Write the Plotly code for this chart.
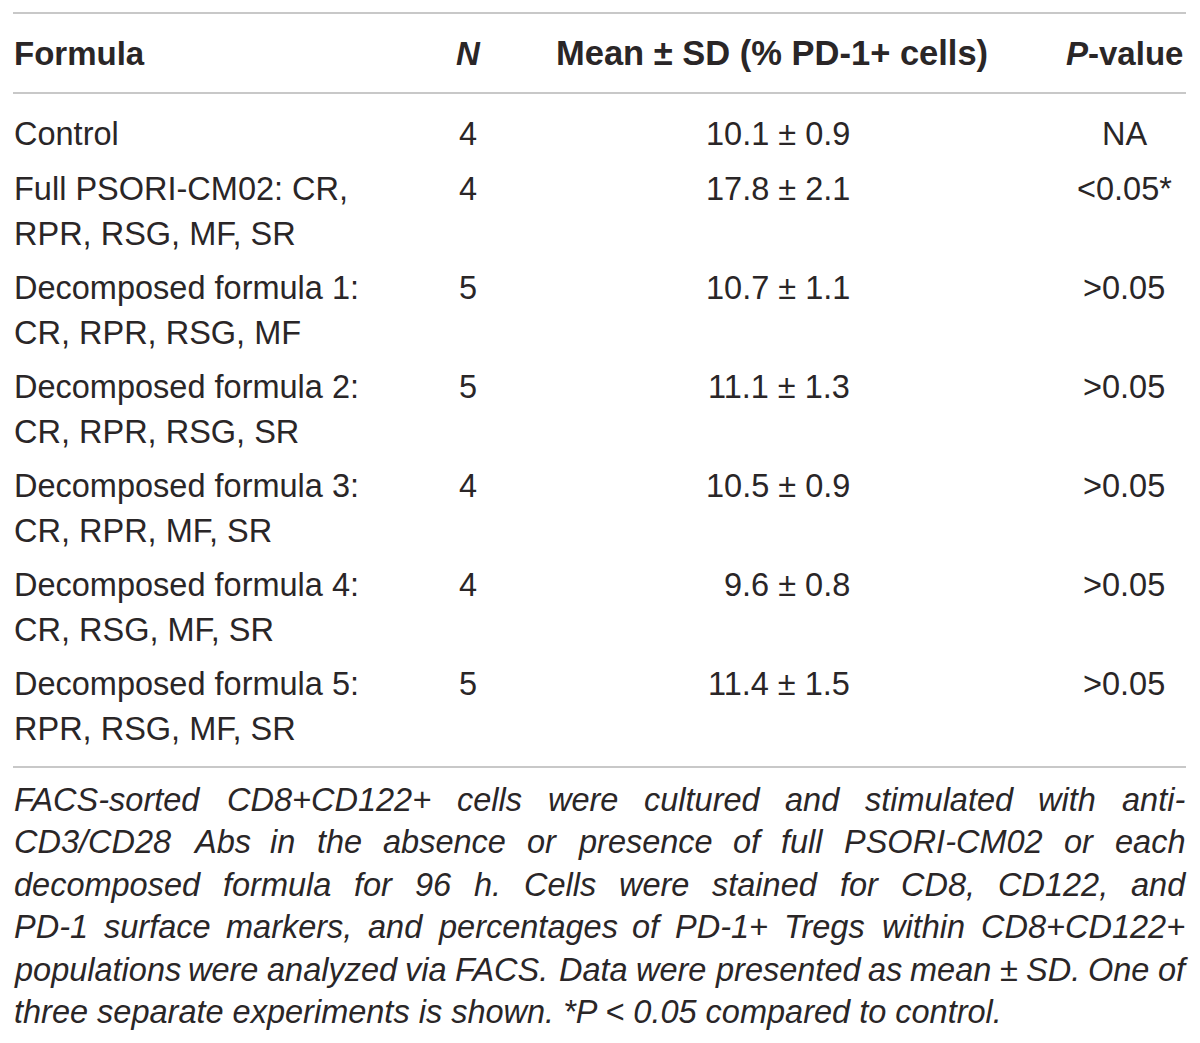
import plotly.graph_objects as go

# table content
formula_line1 = [
    "Control",
    "Full PSORI-CM02: CR,",
    "Decomposed formula 1:",
    "Decomposed formula 2:",
    "Decomposed formula 3:",
    "Decomposed formula 4:",
    "Decomposed formula 5:",
]
formula_line2 = [
    "",
    "RPR, RSG, MF, SR",
    "CR, RPR, RSG, MF",
    "CR, RPR, RSG, SR",
    "CR, RPR, MF, SR",
    "CR, RSG, MF, SR",
    "RPR, RSG, MF, SR",
]
n_values = [4, 4, 5, 5, 4, 4, 5]
means = [10.1, 17.8, 10.7, 11.1, 10.5, 9.6, 11.4]
sds = [0.9, 2.1, 1.1, 1.3, 0.9, 0.8, 1.5]
p_values = ["NA", "<0.05*", ">0.05", ">0.05", ">0.05", ">0.05", ">0.05"]

headers = ["<b>Formula</b>", "<b><i>N</i></b>", "<b>Mean ± SD (% PD-1+ cells)</b>", "<b><i>P</i>-value</b>"]

footnote_lines = [
    "FACS-sorted CD8+CD122+ cells were cultured and stimulated with anti-",
    "CD3/CD28 Abs in the absence or presence of full PSORI-CM02 or each",
    "decomposed formula for 96 h. Cells were stained for CD8, CD122, and",
    "PD-1 surface markers, and percentages of PD-1+ Tregs within CD8+CD122+",
    "populations were analyzed via FACS. Data were presented as mean ± SD. One of",
    "three separate experiments is shown. *P < 0.05 compared to control.",
]

FONT = "Liberation Sans, Arial, Helvetica, sans-serif"
TEXT = "#2a2627"
RULE = "#c8c8c8"
BODY_SIZE = 32.5
HEAD_SIZE = 33
NOTE_SIZE = 32.5

# Arial / Liberation Sans advance widths (1/1000 em), used to justify the note
W = {" ": 278, "*": 389, "+": 584, ",": 278, "-": 333, ".": 278, "/": 278,
     ":": 278, "<": 584, ">": 584, "±": 549, "%": 889, "(": 333, ")": 333}
W.update({d: 556 for d in "0123456789"})
W.update(dict(zip("ABCDEFGHIJKLMNOPQRSTUVWXYZ",
                  [667, 667, 722, 722, 667, 611, 778, 722, 278, 500, 667, 556, 833,
                   722, 778, 667, 778, 722, 667, 611, 722, 667, 944, 667, 667, 611])))
W.update(dict(zip("abcdefghijklmnopqrstuvwxyz",
                  [556, 556, 500, 556, 556, 278, 556, 556, 222, 222, 500, 222, 833,
                   556, 556, 556, 556, 333, 500, 278, 556, 500, 722, 500, 500, 500])))


def text_width(s, size):
    return sum(W.get(ch, 556) for ch in s) * size / 1000.0


X_LEFT, X_RIGHT = 13, 1186
X_N = 468
X_MEAN_HEAD = 772
X_MEAN = 851
X_P = 1124
X_P_HEAD = 1184

fig = go.Figure()
annotations = []


def add_text(x, y, text, anchor="left", size=BODY_SIZE, italic=False):
    annotations.append(dict(
        x=x, y=y, xref="x", yref="y", text=text, showarrow=False,
        xanchor=anchor, yanchor="middle", borderpad=0,
        font=dict(family=FONT, size=size, color=TEXT,
                  style="italic" if italic else "normal"),
    ))


# header
head_y = 53
add_text(X_LEFT, head_y, headers[0], "left", HEAD_SIZE)
add_text(X_N, head_y, headers[1], "center", HEAD_SIZE)
add_text(X_MEAN_HEAD, head_y, headers[2], "center", 34.5)
add_text(X_P_HEAD, head_y, headers[3], "right", HEAD_SIZE)

# body rows
line_gap = 44.5
y = 134
for i in range(len(formula_line1)):
    add_text(X_LEFT, y, formula_line1[i])
    if formula_line2[i]:
        add_text(X_LEFT, y + line_gap, formula_line2[i])
    add_text(X_N, y, str(n_values[i]), "center")
    add_text(X_MEAN, y, f"{means[i]:.1f} ± {sds[i]:.1f}", "right")
    add_text(X_P, y, p_values[i].replace("<", "&lt;").replace(">", "&gt;"), "center")
    y += 55 if not formula_line2[i] else 99

# footnote, justified except the last line
note_y0 = 800
note_gap = 42.4
for k, line in enumerate(footnote_lines):
    yy = note_y0 + k * note_gap
    words = line.split(" ")
    if k == len(footnote_lines) - 1:
        add_text(X_LEFT, yy, line.replace("<", "&lt;"), "left", NOTE_SIZE, True)
        continue
    widths = [text_width(w, NOTE_SIZE) for w in words]
    gap = (X_RIGHT - 2 - X_LEFT - sum(widths)) / (len(words) - 1)
    xx = X_LEFT
    for w, wd in zip(words, widths):
        add_text(xx, yy, w, "left", NOTE_SIZE, True)
        xx += wd + gap

# horizontal rules
shapes = [
    dict(type="line", xref="x", yref="y", x0=X_LEFT, x1=X_RIGHT, y0=yl, y1=yl,
         line=dict(color=RULE, width=2))
    for yl in (13, 93, 767)
]

fig.update_layout(
    width=1200, height=1043,
    margin=dict(l=0, r=0, t=0, b=0),
    paper_bgcolor="white", plot_bgcolor="white",
    xaxis=dict(range=[0, 1200], visible=False, fixedrange=True),
    yaxis=dict(range=[1043, 0], visible=False, fixedrange=True),
    showlegend=False,
    annotations=annotations,
    shapes=shapes,
)

fig.write_html("out.html", config={"displayModeBar": False},
               post_script="document.body.style.margin='0px';")
